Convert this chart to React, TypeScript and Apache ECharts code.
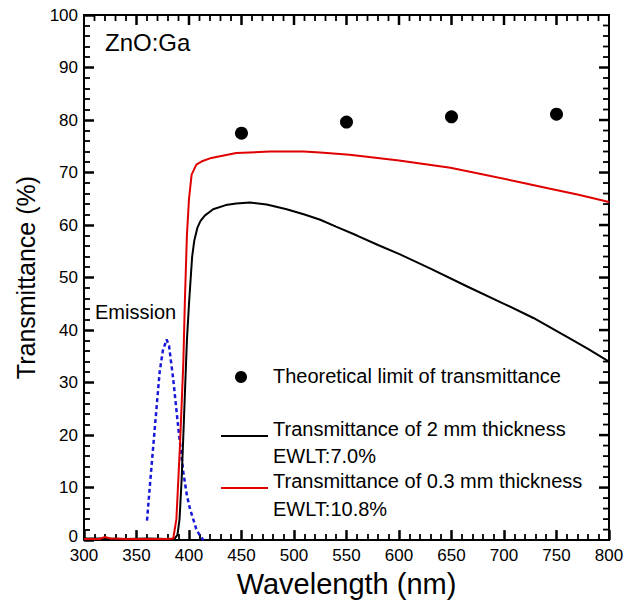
import React, { useEffect, useRef } from "react";
import * as echarts from "echarts";

const theoryWl = [450, 550, 650, 750];
const theoryT = [77.5, 79.6, 80.6, 81.1];

const blackWl = [300, 320, 340, 360, 380, 386, 389, 391, 393, 395, 396, 398, 400, 401, 403, 405, 408, 411, 415, 423, 435, 445, 458, 474, 493, 510, 525, 540, 560, 580, 601, 630, 665, 700, 728, 760, 780, 800];
const blackT = [0.3, 0.3, 0.2, 0.3, 0.2, 0.2, 1, 4, 11.6, 22, 27.4, 38, 45, 48, 54, 57, 59.5, 60.8, 61.8, 63, 63.8, 64.1, 64.3, 63.9, 63.0, 62.0, 61.0, 59.7, 58.0, 56.2, 54.4, 51.7, 48.3, 45, 42.3, 38.7, 36.4, 34.0];

const redWl = [300, 315, 320, 325, 340, 360, 380, 385, 388, 391.4, 394.6, 396, 398, 400, 402.5, 407, 413, 420, 445, 477, 509, 525, 553, 600, 649, 712, 744, 770, 800];
const redT = [0.2, 0.2, 0.6, 0.3, 0.2, 0.2, 0.2, 0.3, 4, 18, 33.8, 45, 58, 65, 69.6, 71.5, 72.2, 72.7, 73.7, 74.0, 74.0, 73.8, 73.4, 72.3, 70.9, 68.3, 66.9, 65.8, 64.4];

const emisWl = [360, 363, 366, 369, 372, 375, 378.7, 381, 385, 390, 394.6, 398, 401, 407, 411, 414];
const emisT = [3.7, 11, 18, 25, 31.9, 36, 38.2, 37, 30.6, 21, 12.9, 8.5, 5.9, 2.1, 0.6, 0];

const X_MIN = 300, X_MAX = 800, X_MAJOR = 50, X_MINOR = 10;
const Y_MIN = 0, Y_MAX = 100, Y_MAJOR = 10, Y_MINOR = 2;

const FONT = "'Liberation Sans', Arial, sans-serif";

const zip = (a: number[], b: number[]) => a.map((v, i) => [v, b[i]]);

const xTickVals: number[] = [];
for (let v = X_MIN + X_MINOR; v < X_MAX; v += X_MINOR) xTickVals.push(v);
const yTickVals: number[] = [];
for (let v = Y_MIN + Y_MINOR; v < Y_MAX; v += Y_MINOR) yTickVals.push(v);

function label(x: number, y: number, text: string, size: number) {
  return {
    type: "text",
    x,
    y,
    style: { text, fontSize: size, fontFamily: FONT, fill: "#000", align: "left", verticalAlign: "middle" },
  };
}

function seg(x1: number, y1: number, x2: number, y2: number, w: number) {
  return {
    type: "line",
    shape: { x1, y1, x2, y2 },
    style: { stroke: "#000", lineWidth: w },
  };
}

const legendGraphics = [
  label(105, 42, "ZnO:Ga", 24),
  label(95, 312, "Emission", 20),
  { type: "circle", shape: { cx: 241, cy: 377, r: 6 }, style: { fill: "#000" } },
  label(273, 376, "Theoretical limit of transmittance", 20),
  { type: "line", shape: { x1: 221, y1: 436, x2: 268, y2: 436 }, style: { stroke: "#000", lineWidth: 2 } },
  label(273, 429, "Transmittance of 2 mm thickness", 20),
  label(273, 456, "EWLT:7.0%", 20),
  { type: "line", shape: { x1: 221, y1: 488, x2: 268, y2: 488 }, style: { stroke: "#e00000", lineWidth: 2 } },
  label(273, 481, "Transmittance of 0.3 mm thickness", 20),
  label(273, 509, "EWLT:10.8%", 20),
];

export default function App() {
  const ref = useRef<HTMLDivElement>(null);
  useEffect(() => {
    if (!ref.current) return;
    const chart = echarts.init(ref.current, undefined, { renderer: "svg" });
    chart.setOption({
      animation: false,
      backgroundColor: "#fff",
      grid: { left: 84, right: 25, top: 15, bottom: 62 },
      xAxis: {
        type: "value", min: X_MIN, max: X_MAX, interval: X_MAJOR,
        axisLine: { show: true, lineStyle: { color: "#000", width: 2 } },
        axisTick: { show: true, inside: true, length: 10, lineStyle: { color: "#000", width: 2.5 } },
        minorTick: { show: true, splitNumber: 5, length: 6, lineStyle: { color: "#000", width: 1.8 } },
        splitLine: { show: false },
        minorSplitLine: { show: false },
        axisLabel: { color: "#000", fontSize: 17, fontFamily: FONT, margin: 7 },
        name: "Wavelength (nm)", nameLocation: "middle", nameGap: 27,
        nameTextStyle: { color: "#000", fontSize: 29, fontFamily: FONT },
      },
      yAxis: {
        type: "value", min: Y_MIN, max: Y_MAX, interval: Y_MAJOR,
        axisLine: { show: true, lineStyle: { color: "#000", width: 2 } },
        axisTick: { show: true, inside: true, length: 10, lineStyle: { color: "#000", width: 2.5 } },
        minorTick: { show: true, splitNumber: 5, length: 6, lineStyle: { color: "#000", width: 1.8 } },
        splitLine: { show: false },
        minorSplitLine: { show: false },
        axisLabel: {
          color: "#000", fontSize: 17, fontFamily: FONT, margin: 6,
          formatter: (v: number) => (v === 0 ? "{z|0}" : String(v)),
          rich: { z: { fontSize: 17, fontFamily: FONT, color: "#000", padding: [0, 0, 8, 0] } },
        },
        name: "Transmittance (%)", nameLocation: "middle", nameGap: 45,
        nameTextStyle: { color: "#000", fontSize: 25, fontFamily: FONT },
      },
      series: [
        {
          type: "line", data: zip(emisWl, emisT), showSymbol: false,
          lineStyle: { color: "#1818d8", width: 2.5, type: [4, 3] }, z: 2,
        },
        {
          type: "line", data: zip(blackWl, blackT), showSymbol: false,
          lineStyle: { color: "#000", width: 2 }, z: 3,
        },
        {
          type: "line", data: zip(redWl, redT), showSymbol: false,
          lineStyle: { color: "#e00000", width: 2 }, z: 4,
        },
        {
          type: "scatter", data: zip(theoryWl, theoryT), symbol: "circle", symbolSize: 13,
          itemStyle: { color: "#000", opacity: 1 }, z: 5,
        },
      ],
      graphic: legendGraphics,
    });

    const px = (x: number, y: number) =>
      chart.convertToPixel({ xAxisIndex: 0, yAxisIndex: 0 }, [x, y]) as unknown as number[];
    const frame: any[] = [];
    const tl = px(X_MIN, Y_MAX);
    const tr = px(X_MAX, Y_MAX);
    const br = px(X_MAX, Y_MIN);
    if (tl && tr && br) {
      frame.push(seg(tl[0] - 1, tl[1], tr[0] + 1, tr[1], 2));
      frame.push(seg(tr[0], tr[1], br[0], br[1] + 1, 2));
    }
    xTickVals.forEach((v) => {
      const major = v % X_MAJOR === 0;
      const t = px(v, Y_MAX);
      if (t) frame.push(seg(t[0], t[1], t[0], t[1] + (major ? 10 : 6), major ? 2.5 : 1.8));
    });
    yTickVals.forEach((v) => {
      const major = v % Y_MAJOR === 0;
      const r = px(X_MAX, v);
      if (r) frame.push(seg(r[0], r[1], r[0] - (major ? 10 : 6), r[1], major ? 2.5 : 1.8));
    });
    chart.setOption({ graphic: [...legendGraphics, ...frame] });

    return () => chart.dispose();
  }, []);
  return (
    <div
      ref={ref}
      style={{ position: "absolute", left: 0, top: 0, width: 634, height: 603 }}
    />
  );
}
